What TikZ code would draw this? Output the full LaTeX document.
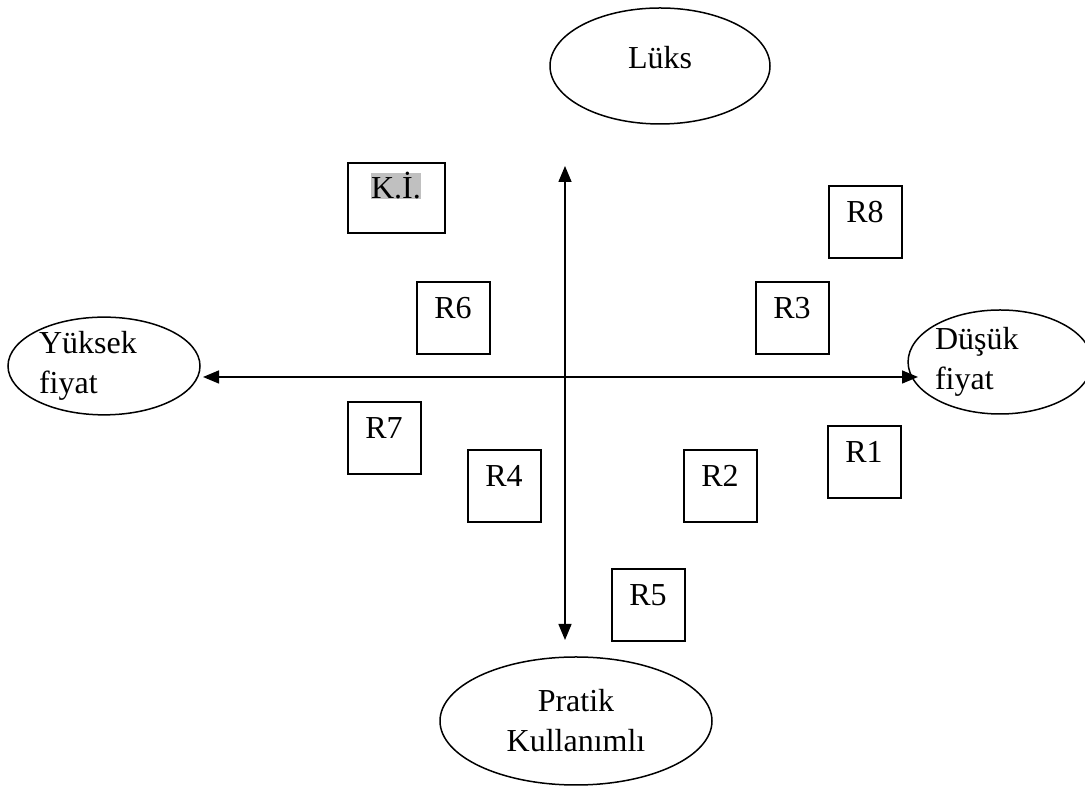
\documentclass[tikz,border=0pt]{standalone}
\usepackage{fontspec}
\setmainfont{Liberation Serif}
\usepackage{tikz}
\usetikzlibrary{arrows.meta,shapes}
\definecolor{kigray}{RGB}{192,192,192}
\tikzstyle{edge}=[
	{Triangle[length=16pt,width=13pt]}-{Triangle[length=16pt,width=13pt]},
	line width=1.5pt,
	draw=black
]
\tikzstyle{oval}=[
	ellipse,
	draw=black,
	line width=1.5pt,
	inner sep=0pt,
	font=\fontsize{32}{40}\selectfont
]
\tikzstyle{rbox}=[
	rectangle,
	draw=black,
	line width=2pt,
	inner sep=0pt,
	minimum width=73pt,
	minimum height=72pt,
	text height=22pt,
	text depth=20pt,
	font=\fontsize{32}{38}\selectfont
]

\begin{document}
\begin{tikzpicture}[x=1pt, y=1pt]
\useasboundingbox (0,0) rectangle (1085,786);

\node[oval, minimum width=220pt, minimum height=116pt, text height=22pt, text depth=16pt] at (660, 720) (luks) {Lüks};
\node[oval, minimum width=192pt, minimum height=96pt, text width=130pt, align=left] at (104, 420) (yuksek) {Yüksek\\fiyat};
\node[oval, minimum width=164pt, minimum height=104pt, text width=130pt, align=left] at (1000, 424) (dusuk) {Düşük\\fiyat};
\node[oval, minimum width=272pt, minimum height=128pt, align=center] at (576, 65) (pratik) {Pratik\\Kullanımlı};

\coordinate (up) at (565, 620);
\coordinate (down) at (565, 146);
\coordinate (left) at (203, 409);
\coordinate (right) at (918, 409);
\draw[edge] (down) to (up);
\draw[edge] (left) to (right);

\node[rbox, minimum width=97pt, minimum height=70pt] at (396, 588) (ki) {\setlength{\fboxsep}{0pt}\colorbox{kigray}{K.İ.}};

\foreach \n/\x/\y in {R8/865/564, R6/453/468, R3/792/468, R7/384/348,
                      R4/504/300, R2/720/300, R1/864/324, R5/648/181}{
    \node[rbox] at (\x, \y) (\n) {\n};
}

\end{tikzpicture}
\end{document}
